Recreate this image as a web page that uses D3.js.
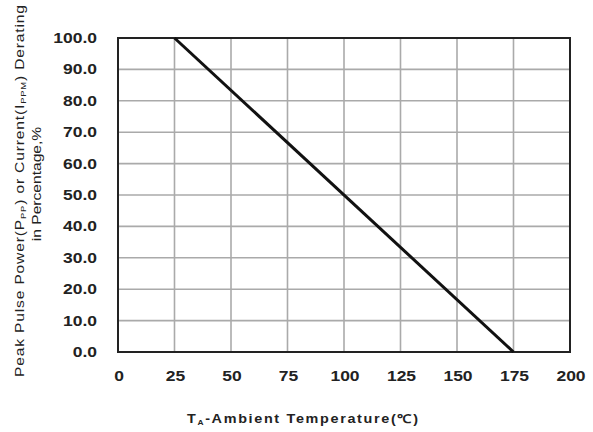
<!DOCTYPE html>
<html><head><meta charset="utf-8">
<script src="https://cdn.jsdelivr.net/npm/d3@7"></script>
<style>body{margin:0;background:#fff}svg{display:block}</style>
</head><body>
<script>
const xTicks = [0,25,50,75,100,125,150,175,200];
const yTicks = [0,10,20,30,40,50,60,70,80,90,100];
const temps = [25,175];
const derating = [100,0];

const W=593,H=432;
const m={l:118,t:38,r:23,b:80};
const svg=d3.select("body").append("svg").attr("width",W).attr("height",H);
const x=d3.scaleLinear().domain([0,200]).range([m.l,W-m.r]);
const y=d3.scaleLinear().domain([0,100]).range([H-m.b,m.t]);

const g=svg.append("g");
g.selectAll("line.v").data(xTicks.slice(1,-1)).join("line")
 .attr("x1",d=>x(d)).attr("x2",d=>x(d)).attr("y1",y(0)).attr("y2",y(100))
 .attr("stroke","#aaa").attr("stroke-width",1.6);
g.selectAll("line.h").data(yTicks.slice(1,-1)).join("line")
 .attr("y1",d=>y(d)).attr("y2",d=>y(d)).attr("x1",x(0)).attr("x2",x(200))
 .attr("stroke","#aaa").attr("stroke-width",1.6);

g.append("rect").attr("x",x(0)).attr("y",y(100)).attr("width",x(200)-x(0)).attr("height",y(0)-y(100))
 .attr("fill","none").attr("stroke","#222").attr("stroke-width",2);

const line=d3.line().x((d,i)=>x(temps[i])).y((d,i)=>y(d));
g.append("path").datum(derating).attr("d",line).attr("fill","none").attr("stroke","#111").attr("stroke-width",3);

const font="'Liberation Sans', Arial, sans-serif";
const sx=1.25;
svg.append("g").selectAll("text").data(yTicks).join("text")
 .attr("transform",d=>`translate(97,${y(d)}) scale(${sx},1)`).attr("dy","0.36em").attr("text-anchor","end")
 .attr("font-family",font).attr("font-weight","bold").attr("font-size",14)
 .attr("fill","#222").text(d=>d.toFixed(1));
svg.append("g").selectAll("text").data(xTicks).join("text")
 .attr("transform",d=>`translate(${x(d)+1},376) scale(${sx},1)`).attr("dy","0.36em").attr("text-anchor","middle")
 .attr("font-family",font).attr("font-weight","bold").attr("font-size",14)
 .attr("fill","#222").text(d=>d);

// x title
const xt=svg.append("text").attr("transform","translate(187,423) scale(1.2,1)")
 .attr("font-family",font).attr("font-size",12).attr("font-weight","bold").attr("fill","#222")
 .attr("textLength",231/1.2).attr("lengthAdjust","spacing");
xt.append("tspan").text("T");
xt.append("tspan").attr("font-size",7).attr("dy",2).text("A");
xt.append("tspan").attr("dy",-2).text("-Ambient  Temperature(℃)");

// y title
const yt1=svg.append("text").attr("transform","translate(24,377) rotate(-90) scale(1.25,1)")
 .attr("font-family",font).attr("font-size",12.5).attr("fill","#222")
 .attr("textLength",372/1.25).attr("lengthAdjust","spacing");
yt1.append("tspan").text("Peak Pulse Power(P");
yt1.append("tspan").attr("font-size",7.5).attr("dy",2).text("PP");
yt1.append("tspan").attr("dy",-2).text(") or Current(I");
yt1.append("tspan").attr("font-size",7.5).attr("dy",2).text("PPM");
yt1.append("tspan").attr("dy",-2).text(") Derating");
svg.append("text").attr("transform","translate(41,184) rotate(-90) scale(1.25,1)").attr("text-anchor","middle")
 .attr("font-family",font).attr("font-size",12.5).attr("fill","#222")
 .text("in Percentage,%");
</script>
</body></html>
